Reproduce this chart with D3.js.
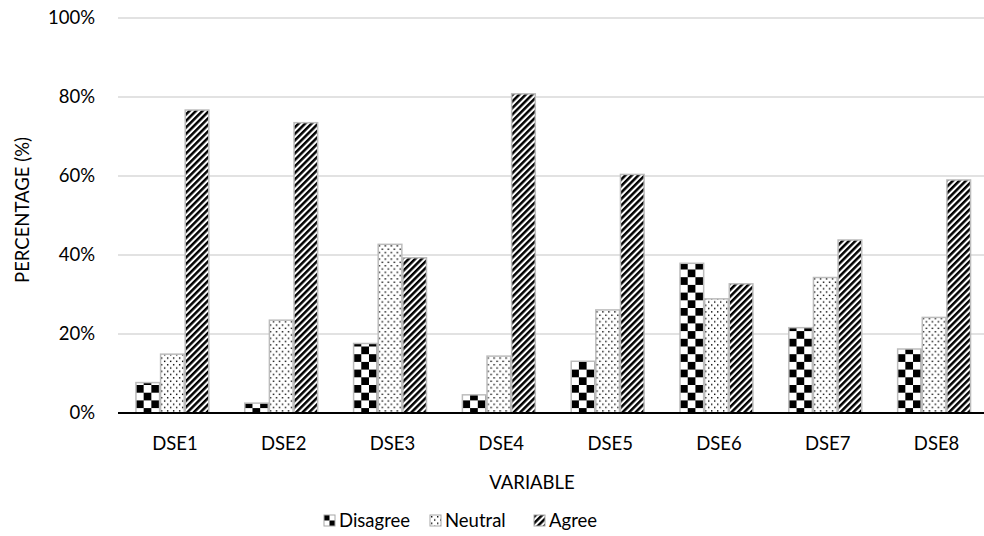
<!DOCTYPE html>
<html>
<head>
<meta charset="utf-8">
<script src="https://cdn.jsdelivr.net/npm/d3@7"></script>
<style>
  html, body { margin: 0; padding: 0; background: #fff; }
  svg { display: block; }
  text { font-family: Lato, "Noto Sans", sans-serif; fill: #000; }
</style>
</head>
<body>
<div id="chart"></div>
<script>
// Survey responses per DSE item, as percent of respondents
const categories = ["DSE1", "DSE2", "DSE3", "DSE4", "DSE5", "DSE6", "DSE7", "DSE8"];
const seriesNames = ["Disagree", "Neutral", "Agree"];
const disagree = [7.7, 2.5, 17.6, 4.6, 13.1, 37.9, 21.6, 16.2];
const neutral  = [14.9, 23.5, 42.7, 14.4, 26.1, 28.9, 34.3, 24.2];
const agree    = [76.7, 73.5, 39.3, 80.8, 60.4, 32.7, 43.8, 59.0];
const yTicks = [0, 20, 40, 60, 80, 100];

const seriesValues = [disagree, neutral, agree];
const patternIds = ["pat-checker", "pat-dots", "pat-stripes"];

const W = 984, H = 536;
const margin = { left: 118, right: -4.5, top: 18, bottom: 123 };
const plotRight = W - margin.right;
const plotBottom = H - margin.bottom;

const svg = d3.select("#chart").append("svg")
  .attr("width", W).attr("height", H);

// Fill patterns: checkerboard, sparse dots, wide upward diagonal
const defs = svg.append("defs");
const checker = defs.append("pattern").attr("id", "pat-checker")
  .attr("patternUnits", "userSpaceOnUse").attr("width", 15.4).attr("height", 15.4);
checker.append("rect").attr("width", 15.4).attr("height", 15.4).attr("fill", "#fff");
checker.append("rect").attr("x", 0).attr("y", 0).attr("width", 7.7).attr("height", 7.7).attr("fill", "#000");
checker.append("rect").attr("x", 7.7).attr("y", 7.7).attr("width", 7.7).attr("height", 7.7).attr("fill", "#000");

const dots = defs.append("pattern").attr("id", "pat-dots")
  .attr("patternUnits", "userSpaceOnUse").attr("width", 6).attr("height", 6.6);
dots.append("rect").attr("width", 6).attr("height", 6.6).attr("fill", "#fff");
dots.append("rect").attr("x", 1).attr("y", 1).attr("width", 1.4).attr("height", 1.4).attr("fill", "#000");
dots.append("rect").attr("x", 4).attr("y", 4.3).attr("width", 1.4).attr("height", 1.4).attr("fill", "#000");

const stripes = defs.append("pattern").attr("id", "pat-stripes")
  .attr("patternUnits", "userSpaceOnUse").attr("width", 4.6).attr("height", 4.6)
  .attr("patternTransform", "rotate(45)");
stripes.append("rect").attr("width", 4.6).attr("height", 4.6).attr("fill", "#fff");
stripes.append("rect").attr("x", 0).attr("y", 0).attr("width", 2.5).attr("height", 4.6).attr("fill", "#000");

// Smaller versions of the fills for the legend keys
const checkerSm = defs.append("pattern").attr("id", "pat-checker-sm")
  .attr("patternUnits", "userSpaceOnUse").attr("width", 11).attr("height", 11);
checkerSm.append("rect").attr("width", 11).attr("height", 11).attr("fill", "#fff");
checkerSm.append("rect").attr("x", 0).attr("y", 0).attr("width", 5.5).attr("height", 5.5).attr("fill", "#000");
checkerSm.append("rect").attr("x", 5.5).attr("y", 5.5).attr("width", 5.5).attr("height", 5.5).attr("fill", "#000");
const legendFills = ["pat-checker-sm", "pat-dots", "pat-stripes"];

// Scales
const x0 = d3.scaleBand().domain(categories)
  .range([margin.left, plotRight]).paddingInner(0.33).paddingOuter(0.165);
const x1 = d3.scaleBand().domain(seriesNames)
  .range([0, x0.bandwidth()]).paddingInner(0.04);
const y = d3.scaleLinear().domain([0, 100]).range([plotBottom, margin.top]);

// Gridlines
svg.append("g").selectAll("line").data(yTicks.filter(t => t > 0)).join("line")
  .attr("x1", margin.left).attr("x2", W)
  .attr("y1", d => y(d)).attr("y2", d => y(d))
  .attr("stroke", "#d9d9d9").attr("stroke-width", 1.5);

// Y axis labels
const yAxis = d3.axisLeft(y).tickValues(yTicks).tickFormat(d => d + "%").tickSize(0).tickPadding(0);
const yg = svg.append("g").attr("transform", `translate(95,0)`).call(yAxis);
yg.select(".domain").remove();
yg.selectAll("text").style("font-size", "18.5px").style("font-family", "Lato, 'Noto Sans', sans-serif").attr("fill", "#000");

// Bars
const groups = svg.append("g").selectAll("g").data(categories).join("g")
  .attr("transform", d => `translate(${x0(d)},0)`);
groups.selectAll("rect")
  .data((c, ci) => seriesNames.map((s, si) => ({ s, si, v: seriesValues[si][ci] })))
  .join("rect")
  .attr("x", d => x1(d.s))
  .attr("y", d => y(d.v))
  .attr("width", x1.bandwidth())
  .attr("height", d => plotBottom - y(d.v))
  .attr("fill", d => `url(#${patternIds[d.si]})`)
  .attr("stroke", "#bcbcbc").attr("stroke-width", 1.5);

// Baseline
svg.append("line").attr("x1", margin.left).attr("x2", W)
  .attr("y1", plotBottom).attr("y2", plotBottom)
  .attr("stroke", "#000").attr("stroke-width", 2);

// X axis labels
const xAxis = d3.axisBottom(x0).tickSize(0).tickPadding(0);
const xg = svg.append("g").attr("transform", `translate(2.5,${plotBottom + 24})`).call(xAxis);
xg.select(".domain").remove();
xg.selectAll("text").style("font-size", "18.5px").style("font-family", "Lato, 'Noto Sans', sans-serif").attr("fill", "#000");

// Axis titles
svg.append("text").attr("x", 532).attr("y", 489).attr("text-anchor", "middle")
  .style("font-size", "18.5px").text("VARIABLE");
svg.append("text").attr("transform", "translate(29,210) rotate(-90)").attr("text-anchor", "middle")
  .style("font-size", "18.5px").text("PERCENTAGE (%)");

// Legend
const legendX = [324, 430, 534];
const legend = svg.append("g").selectAll("g").data(seriesNames).join("g")
  .attr("transform", (d, i) => `translate(${legendX[i]},515)`);
legend.append("rect").attr("x", 0).attr("y", 0).attr("width", 11).attr("height", 11)
  .attr("fill", (d, i) => `url(#${legendFills[i]})`)
  .attr("stroke", "#a6a6a6").attr("stroke-width", 1);
legend.append("text").attr("x", 15).attr("y", 11.5)
  .style("font-size", "18.5px").text(d => d);
</script>
</body>
</html>
